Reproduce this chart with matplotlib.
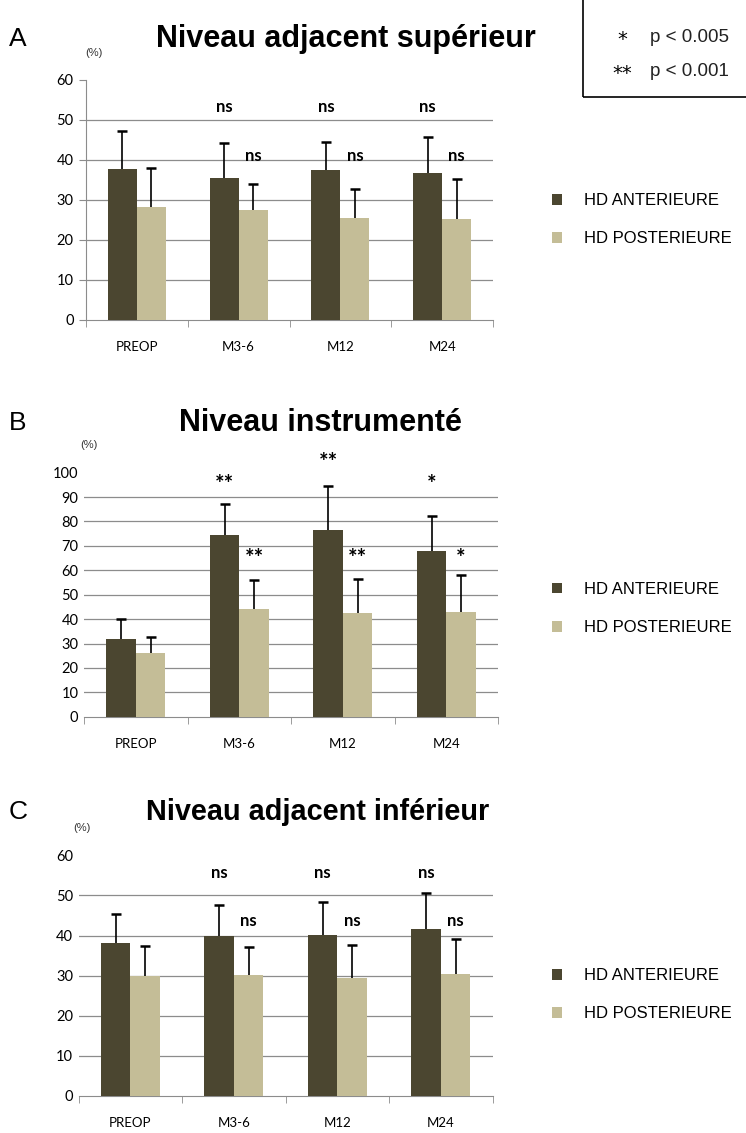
import numpy as np
import matplotlib.pyplot as plt
from matplotlib.patches import Rectangle

categories = ['PREOP', 'M3-6', 'M12', 'M24']
series = ['HD ANTERIEURE', 'HD POSTERIEURE']

# panel A - niveau adjacent superieur
a_ant = [37.8, 35.5, 37.5, 36.8]
a_ant_sd = [9.5, 8.8, 7.0, 9.0]
a_post = [28.3, 27.5, 25.5, 25.3]
a_post_sd = [9.7, 6.6, 7.3, 10.0]
a_sig_ant = ['', 'ns', 'ns', 'ns']
a_sig_post = ['', 'ns', 'ns', 'ns']

# panel B - niveau instrumente
b_ant = [31.9, 74.6, 76.6, 68.0]
b_ant_sd = [8.0, 12.7, 18.1, 14.1]
b_post = [26.1, 44.2, 42.5, 43.0]
b_post_sd = [6.7, 11.8, 14.0, 15.0]
b_sig_ant = ['', '**', '**', '*']
b_sig_post = ['', '**', '**', '*']

# panel C - niveau adjacent inferieur
c_ant = [38.2, 40.0, 40.1, 41.6]
c_ant_sd = [7.2, 7.7, 8.2, 8.9]
c_post = [30.0, 30.2, 29.4, 30.4]
c_post_sd = [7.4, 6.9, 8.3, 8.8]
c_sig_ant = ['', 'ns', 'ns', 'ns']
c_sig_post = ['', 'ns', 'ns', 'ns']

DARK = '#4b4630'
LIGHT = '#c4bd97'
GRID = '#8c8c8c'
W = 0.285

fig = plt.figure(figsize=(7.46, 11.33), dpi=100)


def up_err(ax, xs, vals, sd):
    # one-sided (upper) error bars with a cap at the top only
    vals = np.asarray(vals)
    tops = vals + np.asarray(sd)
    ax.vlines(xs, vals, tops, color='black', lw=1.2, zorder=4)
    ax.plot(xs, tops, ls='none', marker='_', ms=7, mew=1.8, color='black', zorder=4, clip_on=False)


def panel(rect, letter, title, ant, ant_sd, post, post_sd, sig_ant, sig_post,
          ymax, grid_top, lab_ant, lab_post, star, left_spine,
          title_x, title_fs, title_dy, pct_dx, leg_y):
    ax = fig.add_axes(rect)
    x = np.arange(len(categories))
    ax.bar(x - W / 2, ant, W, color=DARK, zorder=3, label=series[0])
    ax.bar(x + W / 2, post, W, color=LIGHT, zorder=3, label=series[1])
    up_err(ax, x - W / 2, ant, ant_sd)
    up_err(ax, x + W / 2, post, post_sd)
    for yv in np.arange(10, grid_top + 1, 10):
        ax.axhline(yv, color=GRID, lw=0.9, zorder=1)
    ax.set_xlim(-0.5, 3.5)
    ax.set_ylim(0, ymax)
    ax.set_yticks(np.arange(0, ymax + 1, 10))
    ax.set_xticks(x)
    ax.set_xticklabels(categories, family='Lato', fontsize=9.5)
    ax.set_xticks(np.arange(-0.5, 4, 1), minor=True)
    ax.tick_params(axis='x', which='major', length=0, pad=15)
    ax.tick_params(axis='x', which='minor', length=5, color=GRID, direction='out')
    ax.tick_params(axis='y', length=5 if left_spine else 0, color=GRID, pad=4)
    for lab in ax.get_yticklabels():
        lab.set_family('Lato')
        lab.set_fontsize(10.5)
    for s in ['top', 'right']:
        ax.spines[s].set_visible(False)
    ax.spines['left'].set_visible(left_spine)
    ax.spines['left'].set_color(GRID)
    ax.spines['bottom'].set_color(GRID)
    fs = 16 if star else 12
    for i in range(4):
        if sig_ant[i]:
            ax.text(x[i] - W / 2, lab_ant[i], sig_ant[i], ha='center', va='center',
                    family='Lato', weight='bold', fontsize=fs, clip_on=False)
        if sig_post[i]:
            ax.text(x[i] + W / 2, lab_post[i], sig_post[i], ha='center', va='center',
                    family='Lato', weight='bold', fontsize=fs, clip_on=False)
    top = rect[1] + rect[3]
    fig.text(0.012, top + title_dy, letter, fontsize=19, family='Liberation Sans', va='center')
    fig.text(title_x, top + title_dy, title, fontsize=title_fs, weight='bold',
             family='Liberation Sans', ha='center', va='center')
    fig.text(rect[0] + pct_dx, top + 0.024, '(%)', fontsize=8, family='Liberation Sans',
             va='center', ha='center', color='#333333')
    h, l = ax.get_legend_handles_labels()
    fig.legend(h, l, loc='center left', bbox_to_anchor=(0.72, leg_y), frameon=False,
               handlelength=0.6, handleheight=0.6, handletextpad=1.3, labelspacing=1.4,
               prop={'family': 'Liberation Sans', 'size': 12})
    return ax


panel([0.1153, 0.7176, 0.5456, 0.2118], 'A', 'Niveau adjacent supérieur',
      a_ant, a_ant_sd, a_post, a_post_sd, a_sig_ant, a_sig_post,
      60, 50, [53.2] * 4, [41.0] * 4, False, True,
      0.463, 22, 0.036, 0.011, 0.806)
panel([0.1126, 0.3674, 0.555, 0.2154], 'B', 'Niveau instrumenté',
      b_ant, b_ant_sd, b_post, b_post_sd, b_sig_ant, b_sig_post,
      100, 90, [95, 95, 104, 95], [65] * 4, True, False,
      0.43, 22, 0.044, 0.006, 0.463)
panel([0.1055, 0.0327, 0.555, 0.2124], 'C', 'Niveau adjacent inférieur',
      c_ant, c_ant_sd, c_post, c_post_sd, c_sig_ant, c_sig_post,
      60, 50, [55.5] * 4, [43.5] * 4, False, False,
      0.426, 20.8, 0.038, 0.004, 0.122)

# p-value key box
fig.patches.append(Rectangle((0.781, 0.914), 0.25, 0.1, transform=fig.transFigure,
                             fill=False, edgecolor='black', lw=1.2))
fig.text(0.834, 0.965, '*', fontsize=14, ha='center', va='center')
fig.text(0.834, 0.935, '**', fontsize=14, ha='center', va='center')
fig.text(0.871, 0.967, 'p < 0.005', fontsize=13.5, family='Liberation Sans', va='center', color='#222222')
fig.text(0.871, 0.937, 'p < 0.001', fontsize=13.5, family='Liberation Sans', va='center', color='#222222')

fig.savefig('out.png', dpi=100)
